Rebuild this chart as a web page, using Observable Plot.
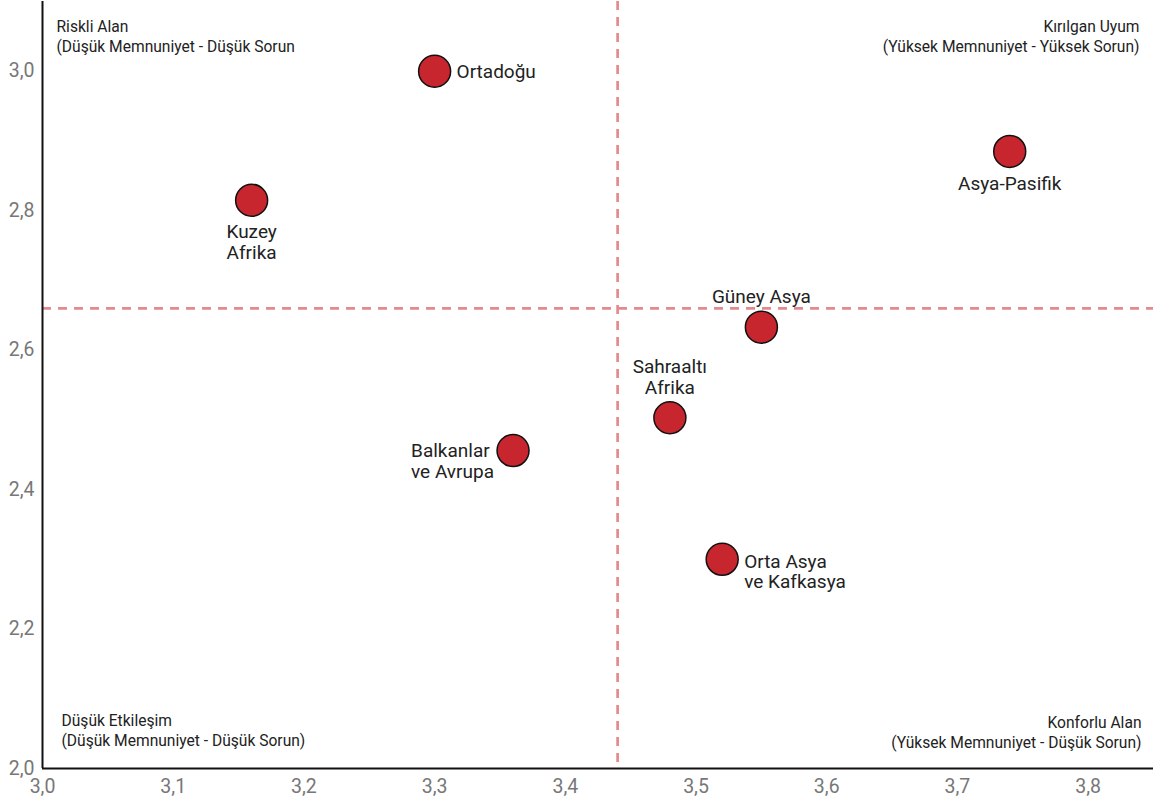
<!DOCTYPE html>
<html>
<head>
<meta charset="utf-8">
<script src="https://cdn.jsdelivr.net/npm/d3@7"></script>
<script src="https://cdn.jsdelivr.net/npm/@observablehq/plot@0.6"></script>
<style>
  html, body { margin: 0; padding: 0; background: #fff; }
  #chart svg { display: block; font-family: Roboto, "Noto Sans", sans-serif; }
</style>
</head>
<body>
<div id="chart"></div>
<script>
// ---- data ----
const regions = ["Ortadoğu", "Kuzey Afrika", "Asya-Pasifik", "Güney Asya", "Sahraaltı Afrika", "Balkanlar ve Avrupa", "Orta Asya ve Kafkasya"];
const labels  = ["Ortadoğu", "Kuzey\nAfrika", "Asya-Pasifik", "Güney Asya", "Sahraaltı\nAfrika", "Balkanlar\nve Avrupa", "Orta Asya\nve Kafkasya"];
const satisfaction = [3.30, 3.16, 3.74, 3.55, 3.48, 3.36, 3.52];
const problems     = [3.00, 2.815, 2.885, 2.633, 2.503, 2.456, 2.30];
const xTicks = [3.0, 3.1, 3.2, 3.3, 3.4, 3.5, 3.6, 3.7, 3.8];
const yTicks = [2.0, 2.2, 2.4, 2.6, 2.8, 3.0];
const xMean = 3.44;
const yMean = 2.66;
const quadrantTL = "Riskli Alan\n(Düşük Memnuniyet - Düşük Sorun";
const quadrantTR = "Kırılgan Uyum\n(Yüksek Memnuniyet - Yüksek Sorun)";
const quadrantBL = "Düşük Etkileşim\n(Düşük Memnuniyet - Düşük Sorun)";
const quadrantBR = "Konforlu Alan\n(Yüksek Memnuniyet - Düşük Sorun)";

const data = regions.map((r, i) => ({region: r, label: labels[i], x: satisfaction[i], y: problems[i]}));
const fmt = d => d.toFixed(1).replace(".", ",");
const pick = names => data.filter(d => names.includes(d.region));

const labelStyle = {x: "x", y: "y", text: "label", fontSize: 19, fill: "#222", lineHeight: 1.1};
const quadStyle = {fontSize: 15.6, fill: "#222", lineHeight: 1.25};

const chart = Plot.plot({
  width: 1153,
  height: 805,
  marginLeft: 42,
  marginRight: 0,
  marginTop: 1,
  marginBottom: 37,
  style: {fontFamily: "Roboto, 'Noto Sans', sans-serif", background: "#fff"},
  x: {domain: [3.0, 3.85], ticks: xTicks, tickFormat: fmt, label: null},
  y: {domain: [2.0, 3.1], ticks: yTicks, tickFormat: fmt, label: null},
  marks: [
    Plot.axisX({ticks: xTicks, tickFormat: fmt, tickSize: 0, tickPadding: 11, fontSize: 19.5, color: "#777", label: null}),
    Plot.axisY({ticks: yTicks, tickFormat: fmt, tickSize: 0, tickPadding: 8, fontSize: 19.5, color: "#777", label: null}),
    Plot.ruleX([xMean], {stroke: "#e58a8c", strokeWidth: 2.7, strokeDasharray: "9,7"}),
    Plot.ruleY([yMean], {stroke: "#e58a8c", strokeWidth: 2.7, strokeDasharray: "9,7"}),
    Plot.ruleX([3.0], {stroke: "#111", strokeWidth: 2}),
    Plot.ruleY([2.0], {stroke: "#111", strokeWidth: 2}),
    Plot.text([quadrantTL], {...quadStyle, frameAnchor: "top-left", textAnchor: "start", lineAnchor: "top", dx: 14, dy: 17}),
    Plot.text([quadrantTR], {...quadStyle, frameAnchor: "top-right", textAnchor: "end", lineAnchor: "top", dx: -14, dy: 17}),
    Plot.text([quadrantBL], {...quadStyle, frameAnchor: "bottom-left", textAnchor: "start", lineAnchor: "bottom", dx: 19, dy: -23}),
    Plot.text([quadrantBR], {...quadStyle, frameAnchor: "bottom-right", textAnchor: "end", lineAnchor: "bottom", dx: -12, dy: -21}),
    Plot.dot(data, {x: "x", y: "y", r: 16, fill: "#c8262e", stroke: "#111", strokeWidth: 1.5}),
    Plot.text(pick(["Ortadoğu"]), {...labelStyle, textAnchor: "start", dx: 22}),
    Plot.text(pick(["Orta Asya ve Kafkasya"]), {...labelStyle, textAnchor: "start", dx: 22, dy: 12}),
    Plot.text(pick(["Kuzey Afrika"]), {...labelStyle, textAnchor: "middle", dy: 42}),
    Plot.text(pick(["Asya-Pasifik"]), {...labelStyle, textAnchor: "middle", dy: 32}),
    Plot.text(pick(["Güney Asya"]), {...labelStyle, textAnchor: "middle", dy: -31}),
    Plot.text(pick(["Sahraaltı Afrika"]), {...labelStyle, textAnchor: "middle", dy: -41}),
    Plot.text(pick(["Balkanlar ve Avrupa"]), {...labelStyle, textAnchor: "start", dx: -102, dy: 10})
  ]
});
document.getElementById("chart").appendChild(chart);
</script>
</body>
</html>
